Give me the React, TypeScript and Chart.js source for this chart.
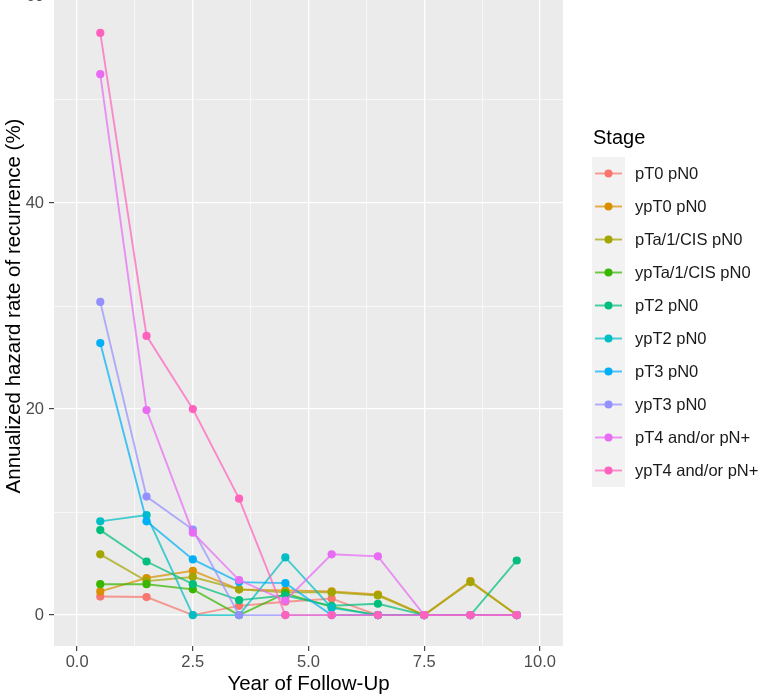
import React, { useEffect, useRef } from "react";
import { Chart, registerables } from "chart.js";

Chart.register(...registerables);

// Follow-up year midpoints (x) for every stage
const years = [0.5, 1.5, 2.5, 3.5, 4.5, 5.5, 6.5, 7.5, 8.5, 9.5];

const stages = [
  "pT0 pN0",
  "ypT0 pN0",
  "pTa/1/CIS pN0",
  "ypTa/1/CIS pN0",
  "pT2 pN0",
  "ypT2 pN0",
  "pT3 pN0",
  "ypT3 pN0",
  "pT4 and/or pN+",
  "ypT4 and/or pN+",
];

const stageColors = [
  "#F8766D",
  "#D89000",
  "#A3A500",
  "#39B600",
  "#00BF7D",
  "#00BFC4",
  "#00B0F6",
  "#9590FF",
  "#E76BF3",
  "#FF62BC",
];

// Annualized hazard rate of recurrence (%) per stage
const pT0pN0 = [1.8, 1.75, 0, 0.9, 1.3, 1.6, 0, 0, 0, 0];
const ypT0pN0 = [2.3, 3.6, 4.3, 2.5, 2.4, 2.3, 2.0, 0, 3.3, 0];
const pTa1CISpN0 = [5.9, 3.3, 3.7, 2.5, 2.2, 2.2, 1.9, 0, 3.2, 0];
const ypTa1CISpN0 = [3.0, 3.0, 2.5, 0, 2.1, 0.8, 0, 0, 0, 0];
const pT2pN0 = [8.25, 5.2, 3.0, 1.45, 1.9, 0.9, 1.1, 0, 0, 5.3];
const ypT2pN0 = [9.1, 9.7, 0, 0, 5.6, 0.7, 0, 0, 0, 0];
const pT3pN0 = [26.4, 9.1, 5.4, 3.2, 3.1, 0, 0, 0, 0, 0];
const ypT3pN0 = [30.4, 11.5, 8.3, 0, 0, 0, 0, 0, 0, 0];
const pT4pNplus = [52.5, 19.9, 8.0, 3.4, 1.4, 5.9, 5.7, 0, 0, 0];
const ypT4pNplus = [56.5, 27.1, 20.0, 11.3, 0, 0, 0, 0, 0, 0];

const seriesValues = [
  pT0pN0,
  ypT0pN0,
  pTa1CISpN0,
  ypTa1CISpN0,
  pT2pN0,
  ypT2pN0,
  pT3pN0,
  ypT3pN0,
  pT4pNplus,
  ypT4pNplus,
];

// Axis breaks and labels
const xMajorTicks = [0, 2.5, 5, 7.5, 10];
const xTickLabels = ["0.0", "2.5", "5.0", "7.5", "10.0"];
const xMinorTicks = [1.25, 3.75, 6.25, 8.75];
const yMajorTicks = [0, 20, 40, 60];
const yTickLabels = ["0", "20", "40", "60"];
const yMinorTicks = [10, 30, 50];

const FONT = "'Liberation Sans', Arial, Helvetica, sans-serif";
const CANVAS_W = 782;
const CANVAS_H = 749;
const SHIFT = 50; // canvas sits above the page top by this much
const LINE_ALPHA = 0.72;

function withAlpha(hex: string, a: number) {
  const n = parseInt(hex.slice(1), 16);
  return `rgba(${(n >> 16) & 255},${(n >> 8) & 255},${n & 255},${a})`;
}

const panelBackground = {
  id: "panelBackground",
  beforeDraw(chart: any) {
    const { ctx, chartArea } = chart;
    ctx.save();
    ctx.fillStyle = "#EBEBEB";
    ctx.fillRect(
      chartArea.left,
      chartArea.top,
      chartArea.right - chartArea.left,
      chartArea.bottom - chartArea.top
    );
    ctx.restore();
  },
};

const stageLegend = {
  id: "stageLegend",
  afterDraw(chart: any) {
    const ctx = chart.ctx;
    const keyLeft = 592;
    const keyWidth = 33;
    const rowH = 33;
    const keysTop = 157 + SHIFT;
    ctx.save();
    ctx.fillStyle = "#000000";
    ctx.font = `20px ${FONT}`;
    ctx.textAlign = "left";
    ctx.textBaseline = "middle";
    ctx.fillText("Stage", 593, 138 + SHIFT);

    ctx.fillStyle = "#F2F2F2";
    ctx.fillRect(keyLeft, keysTop, keyWidth, rowH * stages.length);

    ctx.font = `16.5px ${FONT}`;
    stages.forEach((name, i) => {
      const cy = keysTop + rowH / 2 + rowH * i;
      ctx.strokeStyle = withAlpha(stageColors[i], LINE_ALPHA);
      ctx.lineWidth = 1.9;
      ctx.beginPath();
      ctx.moveTo(keyLeft + 3, cy);
      ctx.lineTo(keyLeft + keyWidth - 3, cy);
      ctx.stroke();
      ctx.fillStyle = stageColors[i];
      ctx.beginPath();
      ctx.arc(keyLeft + keyWidth / 2, cy, 4, 0, Math.PI * 2);
      ctx.fill();
      ctx.fillStyle = "#1A1A1A";
      ctx.fillText(name, 635, cy + 1);
    });
    ctx.restore();
  },
};

export default function App() {
  const canvasRef = useRef<HTMLCanvasElement | null>(null);

  useEffect(() => {
    const canvas = canvasRef.current;
    if (!canvas) return;

    const datasets = seriesValues.map((vals, i) => ({
      label: stages[i],
      data: years.map((x, j) => ({ x, y: vals[j] })),
      borderColor: withAlpha(stageColors[i], LINE_ALPHA),
      backgroundColor: stageColors[i],
      pointBackgroundColor: stageColors[i],
      pointBorderColor: stageColors[i],
      pointBorderWidth: 0,
      pointRadius: 4.1,
      borderWidth: 1.9,
      tension: 0,
      order: stages.length - i,
    }));

    const isMajorX = (v: number) => xMajorTicks.includes(v);
    const isMajorY = (v: number) => yMajorTicks.includes(v);

    const chart = new Chart(canvas, {
      type: "line",
      data: { datasets },
      options: {
        animation: false,
        responsive: false,
        devicePixelRatio: 1,
        layout: { padding: { top: 16, right: 219, left: 0, bottom: 0 } },
        plugins: {
          legend: { display: false },
          tooltip: { enabled: false },
        },
        scales: {
          x: {
            type: "linear",
            min: -0.5,
            max: 10.5,
            afterBuildTicks: (scale: any) => {
              scale.ticks = [...xMajorTicks, ...xMinorTicks]
                .sort((a, b) => a - b)
                .map((v) => ({ value: v }));
            },
            afterFit: (scale: any) => {
              scale.height = 53;
            },
            border: { display: false },
            grid: {
              color: "#FFFFFF",
              lineWidth: (c: any) => (c.tick && isMajorX(c.tick.value) ? 1.3 : 0.6),
              drawTicks: true,
              tickLength: 5,
              tickWidth: 1.1,
              tickColor: (c: any) =>
                c.tick && isMajorX(c.tick.value) ? "#333333" : "rgba(0,0,0,0)",
            },
            ticks: {
              autoSkip: false,
              maxRotation: 0,
              padding: 2,
              color: "#4D4D4D",
              font: { family: FONT, size: 16.5 },
              callback: (value: any) => {
                const k = xMajorTicks.indexOf(Number(value));
                return k >= 0 ? xTickLabels[k] : "";
              },
            },
            title: {
              display: true,
              text: "Year of Follow-Up",
              color: "#000000",
              font: { family: FONT, size: 20.5 },
              padding: { top: 2, bottom: 2 },
            },
          },
          y: {
            type: "linear",
            min: -3,
            max: 63,
            afterBuildTicks: (scale: any) => {
              scale.ticks = [...yMajorTicks, ...yMinorTicks]
                .sort((a, b) => a - b)
                .map((v) => ({ value: v }));
            },
            afterFit: (scale: any) => {
              scale.width = 54;
            },
            border: { display: false },
            grid: {
              color: "#FFFFFF",
              lineWidth: (c: any) => (c.tick && isMajorY(c.tick.value) ? 1.3 : 0.6),
              drawTicks: true,
              tickLength: 5,
              tickWidth: 1.1,
              tickColor: (c: any) =>
                c.tick && isMajorY(c.tick.value) ? "#333333" : "rgba(0,0,0,0)",
            },
            ticks: {
              autoSkip: false,
              padding: 5,
              color: "#4D4D4D",
              font: { family: FONT, size: 16.5 },
              callback: (value: any) => {
                const k = yMajorTicks.indexOf(Number(value));
                return k >= 0 ? yTickLabels[k] : "";
              },
            },
            title: {
              display: true,
              text: "Annualized hazard rate of recurrence (%)",
              color: "#000000",
              font: { family: FONT, size: 20.5 },
              padding: { top: 2, bottom: 2 },
            },
          },
        },
      },
      plugins: [panelBackground, stageLegend],
    } as any);

    return () => chart.destroy();
  }, []);

  return (
    <div
      style={{
        position: "fixed",
        left: 0,
        top: -SHIFT,
        width: CANVAS_W,
        height: CANVAS_H,
        background: "#FFFFFF",
      }}
    >
      <canvas
        ref={canvasRef}
        width={CANVAS_W}
        height={CANVAS_H}
        style={{ display: "block", width: CANVAS_W, height: CANVAS_H }}
      />
    </div>
  );
}
